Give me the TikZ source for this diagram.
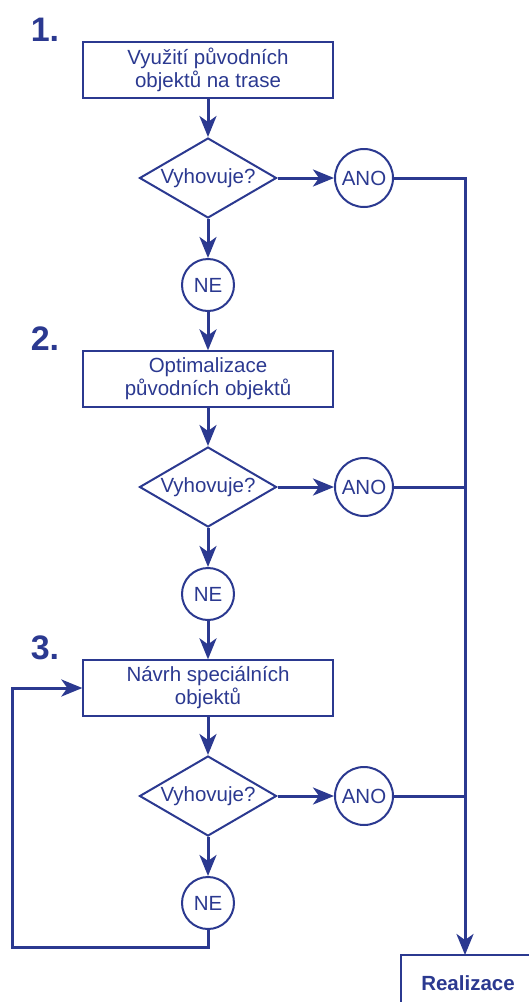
\documentclass[tikz,border=0pt]{standalone}
\usepackage{fontspec}
\setmainfont{Liberation Sans}
\usetikzlibrary{shapes.geometric,arrows.meta}
\definecolor{flowblue}{HTML}{2B3990}

\tikzset{
  stepbox/.style={draw=flowblue, line width=1.3pt, rectangle, minimum width=250pt,
    minimum height=56pt, inner sep=0pt, align=center, text=flowblue,
    font=\fontsize{20.5}{23}\selectfont},
  decision/.style={draw=flowblue, line width=2pt, diamond, aspect=1.71, minimum width=137pt,
    minimum height=80pt, inner sep=0pt, text=flowblue, font=\fontsize{20.5}{23}\selectfont},
  yesnode/.style={draw=flowblue, line width=2pt, circle, minimum size=58pt, inner sep=0pt,
    text=flowblue, font=\fontsize{20.5}{23}\selectfont},
  nonode/.style={draw=flowblue, line width=2pt, circle, minimum size=52pt, inner sep=0pt,
    text=flowblue, font=\fontsize{20.5}{23}\selectfont},
  stagenum/.style={anchor=base, text=flowblue, inner sep=0pt, font=\fontsize{34}{40}\selectfont\bfseries},
  link/.style={draw=flowblue, line width=3pt},
  flow/.style={link, -{Stealth[length=21pt, width=17pt, inset=6pt]}},
}

\begin{document}
\begin{tikzpicture}[x=1pt, y=-1pt]
  \clip (0,0) rectangle (529,1002);
  \useasboundingbox (0,0) rectangle (529,1002);

  % stage numbers
  \node[stagenum] (n1) at (45,41) {1.};
  \node[stagenum] (n2) at (45,350) {2.};
  \node[stagenum] (n3) at (45,659) {3.};

  % stage 1
  \node[stepbox] (s1) at (208,70) {Využití původních\\objektů na trase};
  \node[decision] (d1) at (208,178) {Vyhovuje?};
  \node[yesnode] (y1) at (364,178) {ANO};
  \node[nonode] (no1) at (208,285) {NE};

  % stage 2
  \node[stepbox] (s2) at (208,379) {Optimalizace\\původních objektů};
  \node[decision] (d2) at (208,487) {Vyhovuje?};
  \node[yesnode] (y2) at (364,487) {ANO};
  \node[nonode] (no2) at (208,594) {NE};

  % stage 3
  \node[stepbox] (s3) at (208,688) {Návrh speciálních\\objektů};
  \node[decision] (d3) at (208,796) {Vyhovuje?};
  \node[yesnode] (y3) at (364,796) {ANO};
  \node[nonode] (no3) at (208,903) {NE};

  % final step (runs past the right and bottom edges)
  \node[draw=flowblue, line width=1.3pt, minimum width=134pt, minimum height=56pt,
        inner sep=0pt, text=flowblue, font=\fontsize{20.5}{23}\selectfont\bfseries]
        (real) at (468,983) {Realizace};

  % main flow
  \draw[flow] (s1) -- (d1);
  \draw[flow] (d1) -- (y1);
  \draw[flow] (d1) -- (no1);
  \draw[flow] (no1) -- (s2);
  \draw[flow] (s2) -- (d2);
  \draw[flow] (d2) -- (y2);
  \draw[flow] (d2) -- (no2);
  \draw[flow] (no2) -- (s3);
  \draw[flow] (s3) -- (d3);
  \draw[flow] (d3) -- (y3);
  \draw[flow] (d3) -- (no3);

  % collecting line to the final step
  \coordinate (c1) at (465,178);
  \coordinate (c2) at (465,487);
  \coordinate (c3) at (465,796);
  \coordinate (c4) at (465,955);
  \draw[link] (y2.east) -- (c2);
  \draw[link] (y3.east) -- (c3);
  \draw[flow] (y1.east) -- (c1) -- (c4);

  % loop back from the last NE
  \coordinate (l1) at (208,947);
  \coordinate (l2) at (12,947);
  \coordinate (l3) at (12,688);
  \draw[flow] (no3.south) -- (l1) -- (l2) -- (l3) -- (s3.west);
\end{tikzpicture}
\end{document}
